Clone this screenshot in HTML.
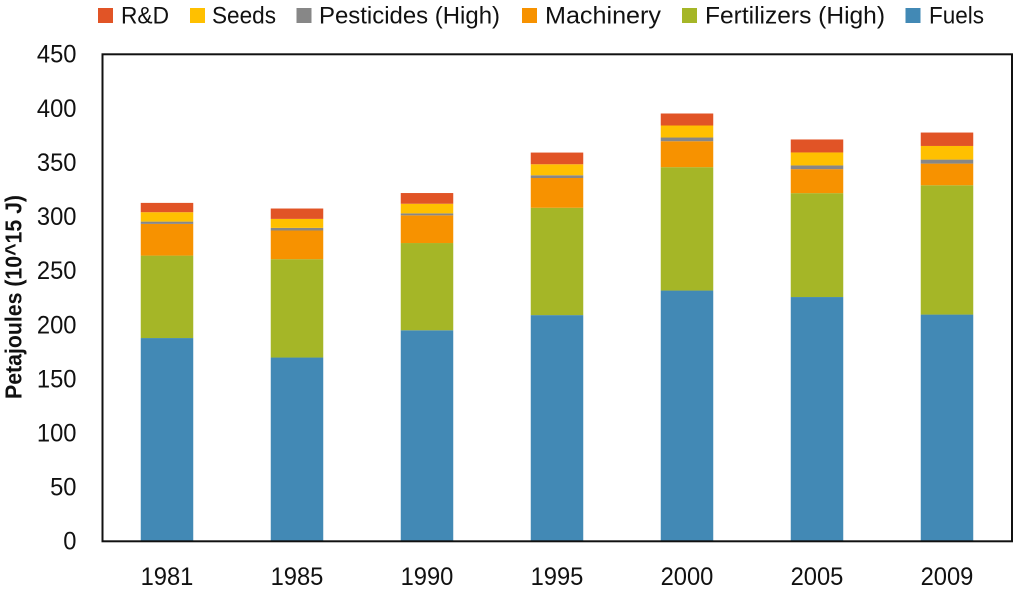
<!DOCTYPE html>
<html lang="en">
<head>
<meta charset="utf-8">
<title>Energy use by category</title>
<style>
  html, body { margin: 0; padding: 0; background: #fff; }
  svg { display: block; font-family: "Liberation Sans", sans-serif; fill: #111; }
</style>
</head>
<body>
<svg id="chart" xmlns="http://www.w3.org/2000/svg" width="1024" height="594" viewBox="0 0 1024 594">
  <rect x="0" y="0" width="1024" height="594" fill="#fff"/>
  <g id="bars"></g>
  <g id="y-ticks"></g>
  <g id="x-ticks"></g>
  <rect x="102.5" y="54.3" width="909.5" height="487" fill="none" stroke="#111" stroke-width="2"/>
  <text transform="translate(21.7,297) rotate(-90)" text-anchor="middle" font-size="23" font-weight="bold" textLength="204" lengthAdjust="spacingAndGlyphs">Petajoules (10^15 J)</text>

  <g font-size="24">
    <g>
      <rect x="98" y="8" width="15" height="15" fill="#E15426"/>
      <text x="121" y="23.3" textLength="48" lengthAdjust="spacingAndGlyphs">R&amp;D</text>
    </g>
    <g>
      <rect x="190" y="8" width="15" height="15" fill="#FFC000"/>
      <text x="212" y="23.3" textLength="64" lengthAdjust="spacingAndGlyphs">Seeds</text>
    </g>
    <g>
      <rect x="296.5" y="8" width="15" height="15" fill="#878787"/>
      <text x="319" y="23.3" textLength="181" lengthAdjust="spacingAndGlyphs">Pesticides (High)</text>
    </g>
    <g>
      <rect x="522" y="8" width="15" height="15" fill="#F79200"/>
      <text x="545" y="23.3" textLength="116" lengthAdjust="spacingAndGlyphs">Machinery</text>
    </g>
    <g>
      <rect x="682" y="8" width="15" height="15" fill="#A5B627"/>
      <text x="705" y="23.3" textLength="180" lengthAdjust="spacingAndGlyphs">Fertilizers (High)</text>
    </g>
    <g>
      <rect x="905.5" y="8" width="15" height="15" fill="#4289B5"/>
      <text x="929" y="23.3" textLength="55" lengthAdjust="spacingAndGlyphs">Fuels</text>
    </g>
  </g>
</svg>
<script>
const years = ["1981", "1985", "1990", "1995", "2000", "2005", "2009"];
const fuels = [187.8, 169.8, 195.0, 209.0, 231.7, 225.7, 209.5];
const fertilizers = [76.2, 90.9, 80.6, 99.2, 114.0, 96.0, 119.5];
const machinery = [29.3, 26.5, 25.6, 27.5, 24.0, 22.2, 20.0];
const pesticides = [2.1, 2.4, 1.8, 2.5, 3.4, 3.4, 3.7];
const seeds = [8.7, 8.3, 8.9, 10.2, 11.1, 12.0, 12.6];
const rnd = [8.6, 9.6, 9.9, 10.8, 11.1, 12.0, 12.4];
const yTicks = [0, 50, 100, 150, 200, 250, 300, 350, 400, 450];

const seriesOrder = [
  { key: "fuels", values: fuels, color: "#4289B5" },
  { key: "fertilizers", values: fertilizers, color: "#A5B627" },
  { key: "machinery", values: machinery, color: "#F79200" },
  { key: "pesticides", values: pesticides, color: "#878787" },
  { key: "seeds", values: seeds, color: "#FFC000" },
  { key: "rd", values: rnd, color: "#E15426" }
];

const NS = "http://www.w3.org/2000/svg";
const plotLeft = 102;
const plotRight = 1012;
const plotTop = 54.3;
const plotBottom = 541.3;
const yMax = 450;
const barWidth = 52.5;
const digitWidth = 13.2;

function yScale(v) {
  return plotBottom - (v / yMax) * (plotBottom - plotTop);
}
function xCenter(i) {
  return plotLeft + (plotRight - plotLeft) * (i + 0.5) / years.length;
}

const barsGroup = document.getElementById("bars");
years.forEach(function (year, i) {
  let cumulative = 0;
  seriesOrder.forEach(function (s) {
    const v = s.values[i];
    const yTop = yScale(cumulative + v);
    const yBase = yScale(cumulative);
    const r = document.createElementNS(NS, "rect");
    r.setAttribute("x", xCenter(i) - barWidth / 2);
    r.setAttribute("y", yTop);
    r.setAttribute("width", barWidth);
    r.setAttribute("height", yBase - yTop);
    r.setAttribute("fill", s.color);
    
    
    barsGroup.appendChild(r);
    cumulative += v;
  });
});

const yTickGroup = document.getElementById("y-ticks");
yTicks.forEach(function (t) {
  const label = document.createElementNS(NS, "text");
  const text = String(t);
  label.setAttribute("x", 76.5);
  label.setAttribute("y", yScale(t) + 8.4);
  label.setAttribute("text-anchor", "end");
  label.setAttribute("font-size", "25");
  label.setAttribute("textLength", text.length * digitWidth);
  label.setAttribute("lengthAdjust", "spacingAndGlyphs");
  label.textContent = text;
  
  
  yTickGroup.appendChild(label);
});

const xTickGroup = document.getElementById("x-ticks");
years.forEach(function (year, i) {
  const label = document.createElementNS(NS, "text");
  label.setAttribute("x", xCenter(i));
  label.setAttribute("y", 585);
  label.setAttribute("text-anchor", "middle");
  label.setAttribute("font-size", "25");
  label.setAttribute("textLength", year.length * digitWidth);
  label.setAttribute("lengthAdjust", "spacingAndGlyphs");
  label.textContent = year;
  
  
  xTickGroup.appendChild(label);
});
</script>
</body>
</html>
